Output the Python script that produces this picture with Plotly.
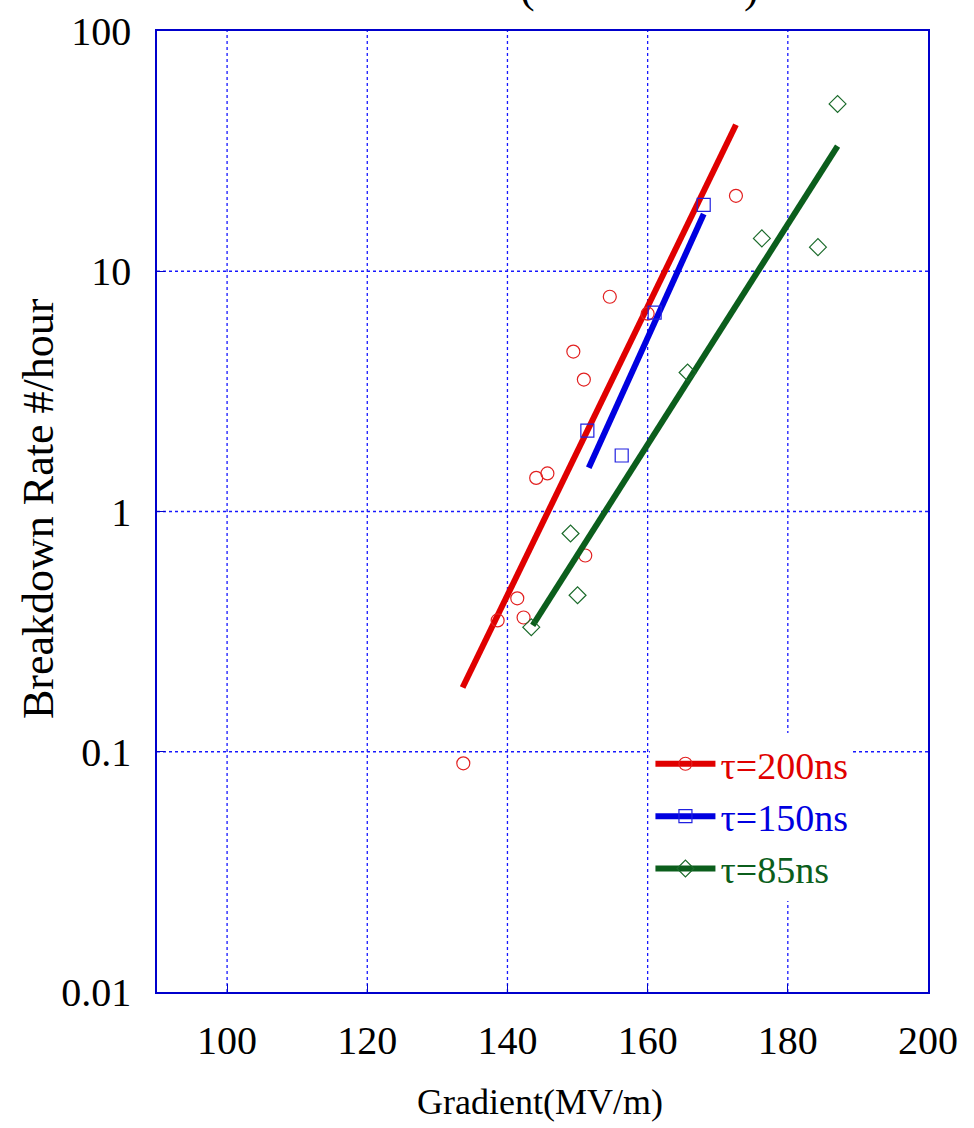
import plotly.graph_objects as go

# ---- data ----
g200 = [133.7, 138.6, 141.4, 142.3, 144.1, 145.7, 149.4, 150.9, 151.1, 154.6, 160.0, 172.6]
r200 = [0.0895, 0.352, 0.435, 0.362, 1.38, 1.44, 4.63, 3.54, 0.656, 7.83, 6.66, 20.6]
fit200_x = [133.6, 172.6]
fit200_y = [0.185, 40.7]

g150 = [151.4, 156.3, 161.0, 168.0]
r150 = [2.17, 1.71, 6.72, 18.9]
fit150_x = [151.6, 168.0]
fit150_y = [1.52, 17.3]

g85 = [143.4, 149.0, 150.0, 165.7, 176.3, 184.3, 187.1]
r85 = [0.33, 0.81, 0.448, 3.79, 13.7, 12.6, 49.7]
fit85_x = [143.6, 187.1]
fit85_y = [0.336, 33.2]

x_ticks = [100, 120, 140, 160, 180, 200]
y_ticks = [0.01, 0.1, 1, 10, 100]
y_tick_text = ["0.01", "0.1", "1", "10", "100"]
series_names = ["\u03c4=200ns", "\u03c4=150ns", "\u03c4=85ns"]
x_title = "Gradient(MV/m)"
y_title = "Breakdown Rate #/hour"

RED, BLUE, GREEN = "#e00000", "#0000e0", "#0b5e1c"
GRID = "#1818ff"
FONT = "Liberation Serif, Times New Roman, serif"

fig = go.Figure()

series = [
    (g200, r200, fit200_x, fit200_y, RED, "#e22020", "circle-open", series_names[0]),
    (g150, r150, fit150_x, fit150_y, BLUE, "#2020e0", "square-open", series_names[1]),
    (g85, r85, fit85_x, fit85_y, GREEN, "#1a6a2a", "diamond-open", series_names[2]),
]

for i, (gx, ry, fx, fy, lc, mc, sym, name) in enumerate(series):
    fig.add_trace(go.Scatter(x=fx, y=fy, mode="lines", line=dict(color=lc, width=6),
                             showlegend=False, hoverinfo="skip"))
    fig.add_trace(go.Scatter(x=gx, y=ry, mode="markers",
                             marker=dict(symbol=sym, size=13, color=mc, line=dict(width=1.2, color=mc)),
                             showlegend=False))
    # legend entry: thick line with marker in the middle, text in series colour
    fig.add_trace(go.Scatter(x=[None], y=[None], mode="lines+markers",
                             name=f"<span style='color:{lc}'>{name}</span>",
                             line=dict(color=lc, width=6),
                             marker=dict(symbol=sym, size=13, color=mc, line=dict(width=1.2, color=mc)),
                             legendgroup=str(i)))

fig.update_xaxes(range=[90, 200], tickvals=x_ticks, ticks="inside", ticklen=8, tickcolor="#0000cc",
                 showline=True, linecolor="#0000cc", linewidth=1.5, mirror=True, showgrid=False,
                 tickfont=dict(family=FONT, size=40, color="black"), ticklabelstandoff=12,
                 zeroline=False, automargin=False)
fig.update_yaxes(type="log", range=[-2, 2], tickvals=y_ticks, ticktext=y_tick_text,
                 ticks="inside", ticklen=8, tickcolor="#0000cc",
                 showline=True, linecolor="#0000cc", linewidth=1.5, mirror=True, showgrid=False,
                 tickfont=dict(family=FONT, size=40, color="black"), ticklabelstandoff=16,
                 zeroline=False, automargin=False)

# dotted blue grid at the inner tick values
for xv in x_ticks[:-1]:
    fig.add_shape(type="line", xref="x", yref="paper", x0=xv, x1=xv, y0=0, y1=1, layer="below",
                  line=dict(color=GRID, width=1.3, dash="3px,3px"))
for yv in y_ticks[1:-1]:
    fig.add_shape(type="line", xref="paper", yref="y", x0=0, x1=1, y0=yv, y1=yv, layer="below",
                  line=dict(color=GRID, width=1.3, dash="3px,3px"))

# axis titles
fig.add_annotation(text=x_title, xref="paper", yref="paper", x=(540 - 157) / 771, y=(992 - 1102) / 961,
                   xanchor="center", yanchor="middle", showarrow=False,
                   font=dict(family=FONT, size=36, color="black"))
fig.add_annotation(text=y_title, xref="paper", yref="paper", x=(38 - 157) / 771, y=(992 - 509) / 961,
                   xanchor="center", yanchor="middle", showarrow=False, textangle=-90,
                   font=dict(family=FONT, size=44, color="black"))

# title remnants cut off at the top edge of the picture (as in the reference)
for txt, px in [("(", 527), (")", 751)]:
    fig.add_annotation(text=txt, xref="paper", yref="paper", x=(px - 157) / 771, y=(992 - 14) / 961,
                       xanchor="center", yanchor="bottom", showarrow=False,
                       font=dict(family=FONT, size=44, color="black"))

fig.update_layout(
    width=974, height=1128,
    margin=dict(l=157, r=46, t=31, b=136),
    plot_bgcolor="white", paper_bgcolor="white",
    legend=dict(x=0.64, y=0.27, xanchor="left", yanchor="top", bgcolor="white",
                font=dict(family=FONT, size=38), tracegroupgap=0, traceorder="grouped",
                itemwidth=60),
)

fig.write_html("out.html")
